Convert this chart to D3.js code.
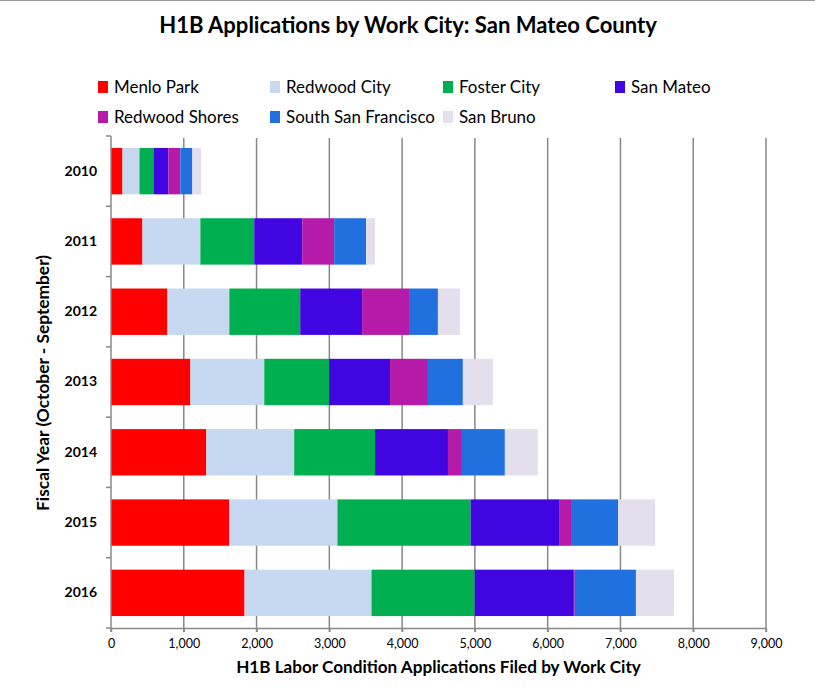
<!DOCTYPE html>
<html>
<head>
<meta charset="utf-8">
<script src="https://cdn.jsdelivr.net/npm/d3@7"></script>
<style>
  html, body { margin: 0; padding: 0; background: #fff; }
  svg { display: block; }
  text { font-family: Lato, "Open Sans", sans-serif; fill: #000; }
</style>
</head>
<body>
<svg id="chart" width="815" height="691"></svg>
<script>
// ---- data ----
const years = ["2010", "2011", "2012", "2013", "2014", "2015", "2016"];
const cities = ["Menlo Park", "Redwood City", "Foster City", "San Mateo", "Redwood Shores", "South San Francisco", "San Bruno"];
const colors = ["#FF0000", "#C6D9F1", "#00B050", "#4005E0", "#B51AA8", "#2070E0", "#E4DFEC"];
const menloPark     = [158, 432, 775, 1091, 1310, 1626, 1835];
const redwoodCity   = [233, 796, 851, 1015, 1207, 1485, 1744];
const fosterCity    = [192, 740, 974, 891, 1111, 1830, 1418];
const sanMateo      = [206, 659, 850, 837, 1002, 1225, 1363];
const redwoodShores = [164, 439, 645, 521, 192, 155, 12];
const southSF       = [165, 439, 397, 480, 590, 647, 841];
const sanBruno      = [119, 123, 302, 412, 452, 509, 522];
const xTicks = [0, 1000, 2000, 3000, 4000, 5000, 6000, 7000, 8000, 9000];
const title = "H1B Applications by Work City: San Mateo County";
const xTitle = "H1B Labor Condition Applications Filed by Work City";
const yTitle = "Fiscal Year (October - September)";

const seriesValues = [menloPark, redwoodCity, fosterCity, sanMateo, redwoodShores, southSF, sanBruno];
const table = years.map((yr, i) => {
  const row = { year: yr };
  cities.forEach((c, j) => row[c] = seriesValues[j][i]);
  return row;
});

// scale a text's font-size so its rendered width matches a target width
function fitWidth(sel, target) {
  sel.each(function () {
    const fs = parseFloat(this.getAttribute("font-size"));
    const w = this.getComputedTextLength();
    if (w > 0) this.setAttribute("font-size", (fs * target / w).toFixed(2));
  });
}

const svg = d3.select("#chart");
const pLeft = 111, pRight = 766, pTop = 136, pBottom = 628;

const x = d3.scaleLinear().domain([0, 9000]).range([pLeft, pRight]);
const y = d3.scaleBand().domain(years).range([pTop, pBottom]).paddingInner(0.34).paddingOuter(0.17);

// top border line
svg.append("line").attr("x1", 0).attr("x2", 815).attr("y1", 0.5).attr("y2", 0.5)
  .attr("stroke", "#9a9a9a").attr("stroke-width", 1);

// gridlines
svg.append("g").selectAll("line").data(xTicks.slice(1)).join("line")
  .attr("x1", d => x(d)).attr("x2", d => x(d))
  .attr("y1", pTop + 2).attr("y2", pBottom + 4)
  .attr("stroke", "#888").attr("stroke-width", 1.5);

// stacked bars
const stack = d3.stack().keys(cities)(table);
svg.append("g").selectAll("g").data(stack).join("g")
  .attr("fill", (d, i) => colors[i])
  .selectAll("rect").data(d => d).join("rect")
  .attr("x", d => x(d[0]))
  .attr("width", d => x(d[1]) - x(d[0]))
  .attr("y", d => y(d.data.year))
  .attr("height", y.bandwidth());

// x axis
const xAxis = svg.append("g").attr("transform", `translate(0,${pBottom})`)
  .call(d3.axisBottom(x).tickValues(xTicks).tickFormat(d3.format(",")).tickSize(4).tickSizeOuter(0).tickPadding(7));
xAxis.select(".domain").attr("stroke", "#888").attr("stroke-width", 1.5);
xAxis.selectAll(".tick line").attr("stroke", "#888").attr("stroke-width", 1.5);
xAxis.selectAll(".tick text").style("font-family", "Lato, sans-serif").attr("font-size", 12.5).attr("fill", "#000");

// y axis
const yAxis = svg.append("g").attr("transform", `translate(${pLeft},0)`)
  .call(d3.axisLeft(y).tickSize(0).tickPadding(14));
yAxis.select(".domain").attr("stroke", "#888").attr("stroke-width", 1.5).attr("d", `M0,${pTop}V${pBottom + 4}`);
yAxis.selectAll(".tick text").attr("font-weight", "bold")
  .style("font-family", "Lato, sans-serif").attr("font-size", 14).attr("fill", "#000");
// y ticks between bands
svg.append("g").selectAll("line").data(d3.range(years.length + 1)).join("line")
  .attr("x1", pLeft - 5).attr("x2", pLeft)
  .attr("y1", i => pBottom - i * (pBottom - pTop) / years.length)
  .attr("y2", i => pBottom - i * (pBottom - pTop) / years.length)
  .attr("stroke", "#888").attr("stroke-width", 1.5);

// title
svg.append("text").attr("x", 408).attr("y", 33).attr("text-anchor", "middle")
  .attr("font-size", 21).attr("font-weight", "bold").text(title)
  .call(fitWidth, 498);

// axis titles
svg.append("text").attr("x", (pLeft + pRight) / 2).attr("y", 673).attr("text-anchor", "middle")
  .attr("font-size", 16).attr("font-weight", "bold").text(xTitle)
  .call(fitWidth, 405);
svg.append("text").attr("transform", `translate(49,${(pTop + pBottom) / 2 + 1}) rotate(-90)`)
  .attr("text-anchor", "middle").attr("font-size", 16).attr("font-weight", "bold").text(yTitle)
  .call(fitWidth, 256);

// legend
const legX = [98, 270, 443, 615];
const legY = [87, 117];
const leg = svg.append("g").selectAll("g").data(cities).join("g")
  .attr("transform", (d, i) => `translate(${legX[i % 4]},${legY[Math.floor(i / 4)]})`);
leg.append("rect").attr("x", 0).attr("y", -6).attr("width", 10).attr("height", 12)
  .attr("fill", (d, i) => colors[i]);
const legText = leg.append("text").attr("x", 16).attr("y", 0).attr("dy", "0.35em")
  .attr("font-size", 17).text(d => d);
// common legend font size fitted to the longest label
const longest = legText.filter(d => d === "South San Francisco");
fitWidth(longest, 149);
legText.attr("font-size", longest.attr("font-size"));
</script>
</body>
</html>
